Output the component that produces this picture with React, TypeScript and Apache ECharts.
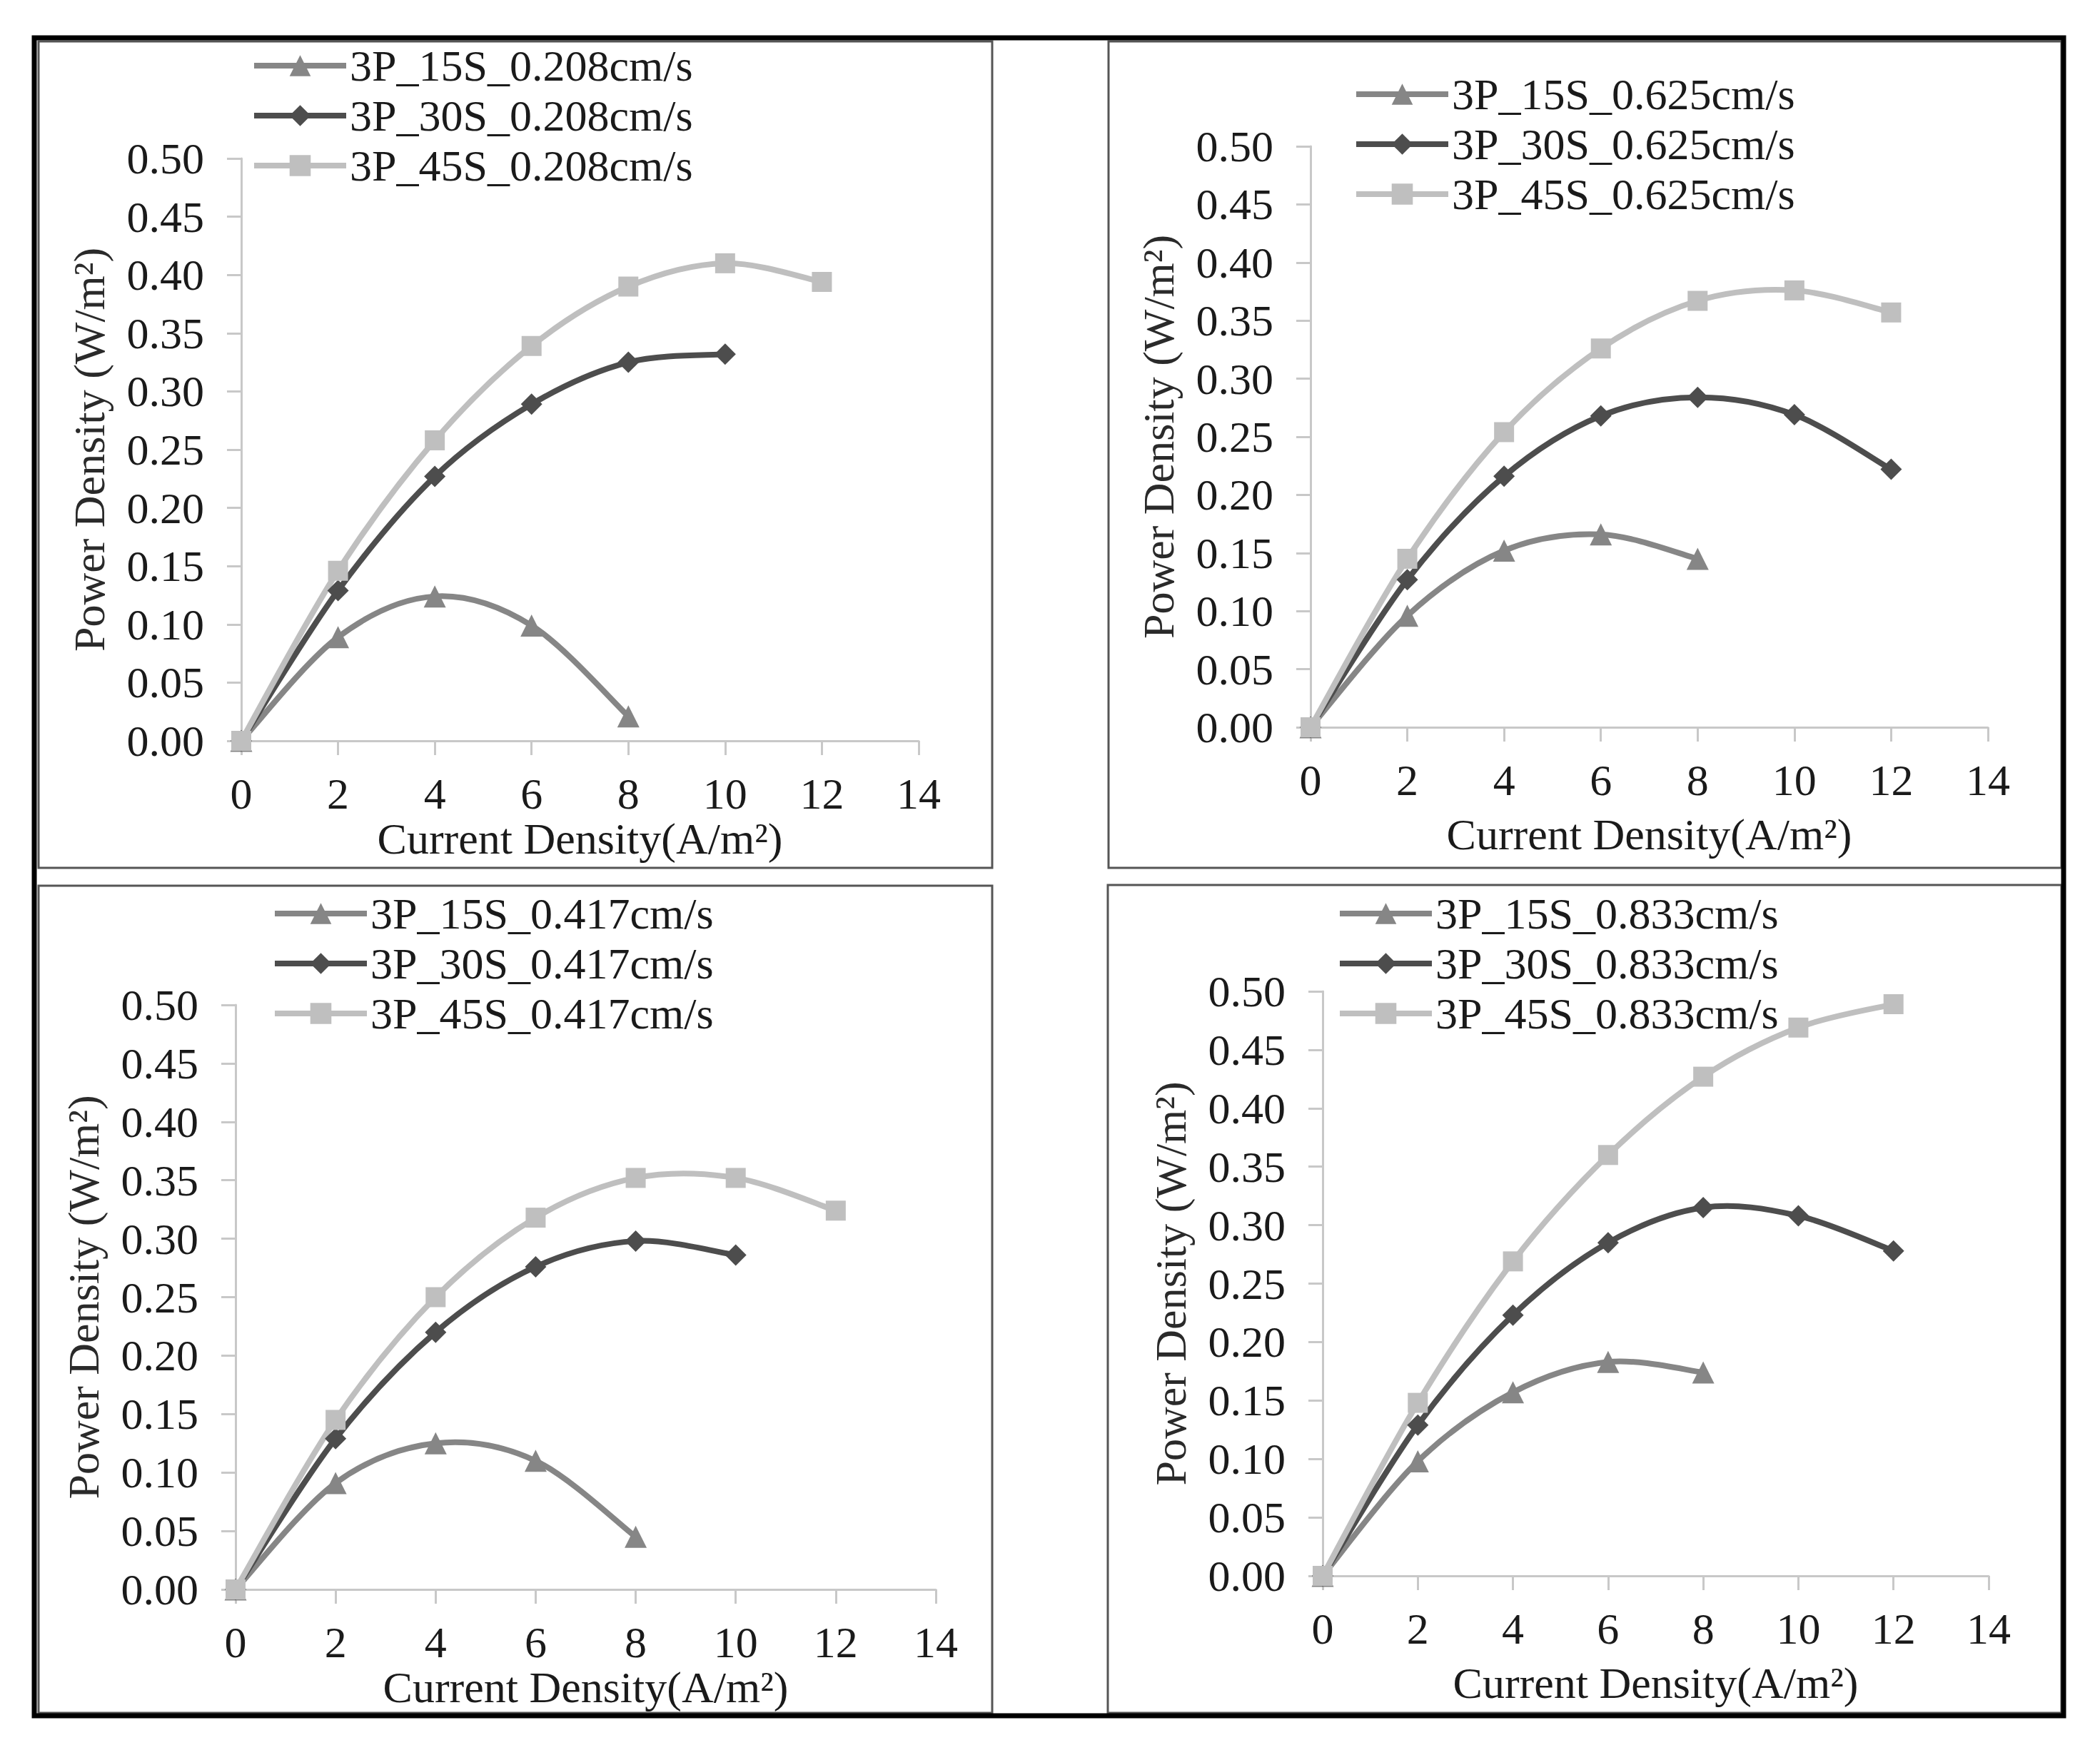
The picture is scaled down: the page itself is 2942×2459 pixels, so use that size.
import React, { useEffect, useRef } from "react";
import * as echarts from "echarts";

// ---------- data ----------
const currentDensity = [0, 2, 4, 6, 8, 10, 12];
const configNames = ["3P_15S", "3P_30S", "3P_45S"];
const flowSpeeds = ["0.208", "0.625", "0.417", "0.833"]; // TL, TR, BL, BR

const p15_0208 = [0, 0.089, 0.124, 0.099, 0.021];
const p30_0208 = [0, 0.129, 0.227, 0.289, 0.325, 0.332];
const p45_0208 = [0, 0.146, 0.258, 0.339, 0.39, 0.41, 0.394];

const p15_0625 = [0, 0.096, 0.152, 0.166, 0.145];
const p30_0625 = [0, 0.127, 0.216, 0.268, 0.284, 0.269, 0.222];
const p45_0625 = [0, 0.145, 0.254, 0.326, 0.367, 0.376, 0.357];

const p15_0417 = [0, 0.091, 0.125, 0.11, 0.045];
const p30_0417 = [0, 0.129, 0.22, 0.276, 0.298, 0.286];
const p45_0417 = [0, 0.145, 0.25, 0.318, 0.352, 0.352, 0.324];

const p15_0833 = [0, 0.098, 0.157, 0.183, 0.174];
const p30_0833 = [0, 0.129, 0.223, 0.285, 0.315, 0.308, 0.278];
const p45_0833 = [0, 0.148, 0.269, 0.36, 0.427, 0.469, 0.489];

const panelData = [
  [p15_0208, p30_0208, p45_0208],
  [p15_0625, p30_0625, p45_0625],
  [p15_0417, p30_0417, p45_0417],
  [p15_0833, p30_0833, p45_0833],
];

const xAxisTitle = "Current Density(A/m²)";
const yAxisTitle = "Power Density (W/m²)";

// ---------- layout / style ----------
const FONT = "'Liberation Serif', 'Times New Roman', serif";
const FS = 62;
const TEXT = "#1a1a1a";
const AXIS = "#c8c8c8";
const LINE_W = 8;
const seriesColors = ["#868686", "#4d4d4d", "#bfbfbf"];
const seriesSymbols = ["triangle", "diamond", "rect"];
const seriesSymbolSizes = [31, 30, 28];

const grids = [
  { left: 338, top: 222, width: 949, height: 816 },
  { left: 1836, top: 205, width: 949, height: 814 },
  { left: 330, top: 1408, width: 981, height: 819 },
  { left: 1853, top: 1389, width: 933, height: 819 },
];
const xNameGaps = [99, 119, 99, 119];
const legendPos = [
  { left: 352, top: 61 },
  { left: 1896, top: 101 },
  { left: 381, top: 1249 },
  { left: 1873, top: 1249 },
];
const panelRects = [
  { x: 54, y: 58, width: 1336, height: 1158 },
  { x: 1553, y: 58, width: 1335, height: 1158 },
  { x: 54, y: 1241, width: 1336, height: 1159 },
  { x: 1552, y: 1240, width: 1336, height: 1160 },
];

export default function App() {
  const ref = useRef<HTMLDivElement>(null);

  useEffect(() => {
    if (!ref.current) return;
    const chart = echarts.init(ref.current, null, { renderer: "svg" });

    const xAxes: any[] = [];
    const yAxes: any[] = [];
    const series: any[] = [];
    const legends: any[] = [];

    grids.forEach((g, i) => {
      xAxes.push({
        gridIndex: i,
        type: "value",
        min: 0,
        max: 14,
        interval: 2,
        axisLine: { show: true, onZero: false, lineStyle: { color: AXIS, width: 3 } },
        axisTick: { show: true, inside: false, length: 20, lineStyle: { color: AXIS, width: 3 } },
        splitLine: { show: false },
        axisLabel: { margin: 43, fontSize: FS, color: TEXT, fontFamily: FONT },
        name: xAxisTitle,
        nameLocation: "middle",
        nameGap: xNameGaps[i],
        nameTextStyle: { fontSize: FS, color: TEXT, fontFamily: FONT },
      });
      yAxes.push({
        gridIndex: i,
        type: "value",
        min: 0,
        max: 0.5,
        interval: 0.05,
        axisLine: { show: true, lineStyle: { color: AXIS, width: 3 } },
        axisTick: { show: true, inside: false, length: 20, lineStyle: { color: AXIS, width: 3 } },
        splitLine: { show: false },
        axisLabel: {
          margin: 52,
          fontSize: FS,
          color: TEXT,
          fontFamily: FONT,
          formatter: (v: number) => v.toFixed(2),
        },
        name: yAxisTitle,
        nameLocation: "middle",
        nameGap: 182,
        nameTextStyle: { fontSize: FS, color: "#2a2a2a", fontFamily: FONT },
      });

      const names: string[] = [];
      panelData[i].forEach((vals, k) => {
        const name = `${configNames[k]}_${flowSpeeds[i]}cm/s`;
        const color = seriesColors[k];
        const pts = vals.map((v, j) => [currentDensity[j], v]);
        names.push(name);

        // smoothed curve (Catmull-Rom style bezier through the data points, via the axis scales)
        series.push({
          type: "custom",
          name: name + " curve",
          coordinateSystem: "cartesian2d",
          xAxisIndex: i,
          yAxisIndex: i,
          data: pts,
          encode: { x: 0, y: 1 },
          silent: true,
          z: 2,
          renderItem: (params: any, api: any) => {
            const j = params.dataIndex;
            if (j >= pts.length - 1) return null;
            const c = (m: number) =>
              api.coord(pts[Math.max(0, Math.min(pts.length - 1, m))]);
            const p0 = c(j - 1);
            const p1 = c(j);
            const p2 = c(j + 1);
            const p3 = c(j + 2);
            const t = 1 / 6;
            return {
              type: "bezierCurve",
              shape: {
                x1: p1[0],
                y1: p1[1],
                x2: p2[0],
                y2: p2[1],
                cpx1: p1[0] + (p2[0] - p0[0]) * t,
                cpy1: p1[1] + (p2[1] - p0[1]) * t,
                cpx2: p2[0] - (p3[0] - p1[0]) * t,
                cpy2: p2[1] - (p3[1] - p1[1]) * t,
              },
              style: { stroke: color, lineWidth: LINE_W, fill: "none", lineCap: "round" },
            };
          },
        });

        // markers
        series.push({
          type: "line",
          name,
          xAxisIndex: i,
          yAxisIndex: i,
          data: pts,
          symbol: seriesSymbols[k],
          symbolSize: seriesSymbolSizes[k],
          showSymbol: true,
          lineStyle: { width: LINE_W, color, opacity: 0 },
          itemStyle: { color },
          emphasis: { disabled: true },
          z: 3,
        });
      });

      legends.push({
        data: names,
        orient: "vertical",
        left: legendPos[i].left,
        top: legendPos[i].top,
        padding: 0,
        itemWidth: 129,
        itemHeight: 37,
        itemGap: 8,
        selectedMode: false,
        lineStyle: { width: LINE_W, opacity: 1 },
        textStyle: { fontSize: FS, color: TEXT, fontFamily: FONT, lineHeight: 62 },
      });
    });

    const graphic: any[] = [
      {
        type: "rect",
        silent: true,
        z: 100,
        shape: { x: 48, y: 53, width: 2843, height: 2351 },
        style: { fill: "none", stroke: "#000", lineWidth: 7 },
      },
      ...panelRects.map((r) => ({
        type: "rect",
        silent: true,
        z: 99,
        shape: r,
        style: { fill: "none", stroke: "#555", lineWidth: 3 },
      })),
    ];

    chart.setOption({
      animation: false,
      backgroundColor: "#ffffff",
      grid: grids.map((g) => ({ ...g, containLabel: false })),
      xAxis: xAxes,
      yAxis: yAxes,
      legend: legends,
      series,
      graphic,
    });

    return () => chart.dispose();
  }, []);

  return (
    <div
      ref={ref}
      style={{ position: "absolute", left: 0, top: 0, width: 2942, height: 2459 }}
    />
  );
}
